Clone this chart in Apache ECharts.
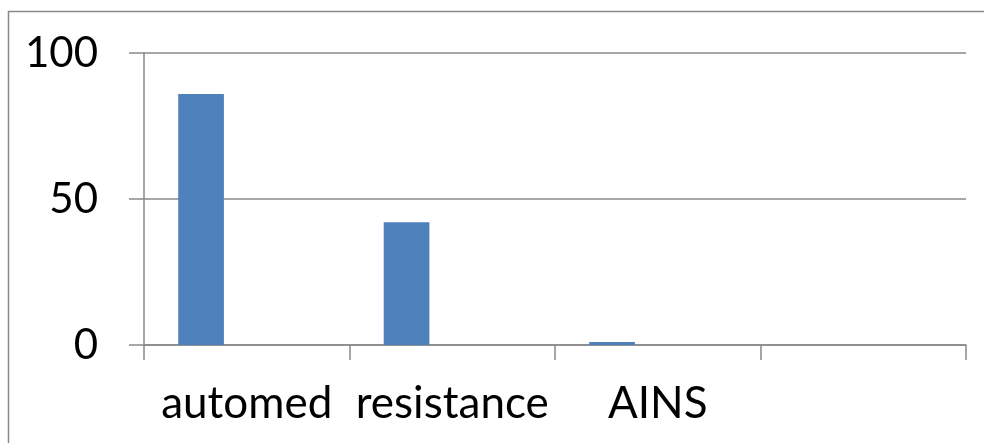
<!DOCTYPE html>
<html>
<head>
<meta charset="utf-8">
<script src="https://cdn.jsdelivr.net/npm/echarts@6/dist/echarts.min.js"></script>
<style>
  html, body { margin: 0; padding: 0; background: #fff; }
  #chart { width: 984px; height: 443px; }
</style>
</head>
<body>
<div id="chart"></div>
<script>
// Category labels along the x axis (the fourth slot is unlabeled)
const categories = ['automed', 'resistance', 'AINS', ''];
// Values of the plotted series
const seriesA = [86, 42, 1, null];
// Two further series in the clustered layout carry no values
const seriesB = [null, null, null, null];
const seriesC = [null, null, null, null];
// Value-axis range and step
const yMin = 0, yMax = 100, yStep = 50;

const lineColor = '#898989';
const fontFamily = 'Lato, "Liberation Sans", sans-serif';

const chart = echarts.init(document.getElementById('chart'), null, { renderer: 'canvas' });

chart.setOption({
  animation: false,
  backgroundColor: '#ffffff',
  graphic: [{
    type: 'rect',
    shape: { x: 8.5, y: 11.5, width: 1100, height: 600 },
    style: { fill: 'none', stroke: lineColor, lineWidth: 1.5 },
    silent: true
  }],
  grid: { left: 144, right: 18, top: 53, bottom: 98, containLabel: false },
  xAxis: {
    type: 'category',
    data: categories,
    boundaryGap: true,
    axisLine: { show: true, lineStyle: { color: lineColor, width: 1.5 } },
    axisTick: { show: true, length: 15, alignWithLabel: false, lineStyle: { color: lineColor, width: 1.5 } },
    axisLabel: { color: '#000', fontFamily: fontFamily, fontSize: 44, margin: 37, interval: 0 },
    splitLine: { show: false }
  },
  yAxis: {
    type: 'value',
    min: yMin, max: yMax, interval: yStep,
    axisLine: { show: true, lineStyle: { color: lineColor, width: 1.5 } },
    axisTick: { show: true, length: 15, lineStyle: { color: lineColor, width: 1.5 } },
    axisLabel: { color: '#000', fontFamily: fontFamily, fontSize: 42, margin: 46 },
    splitLine: { show: true, lineStyle: { color: lineColor, width: 1.5 } }
  },
  series: [
    { type: 'bar', data: seriesA, barGap: '0%', barCategoryGap: '33.3%', itemStyle: { color: '#4f81bd' } },
    { type: 'bar', data: seriesB, itemStyle: { color: '#c0504d' } },
    { type: 'bar', data: seriesC, itemStyle: { color: '#9bbb59' } }
  ]
});
</script>
</body>
</html>
